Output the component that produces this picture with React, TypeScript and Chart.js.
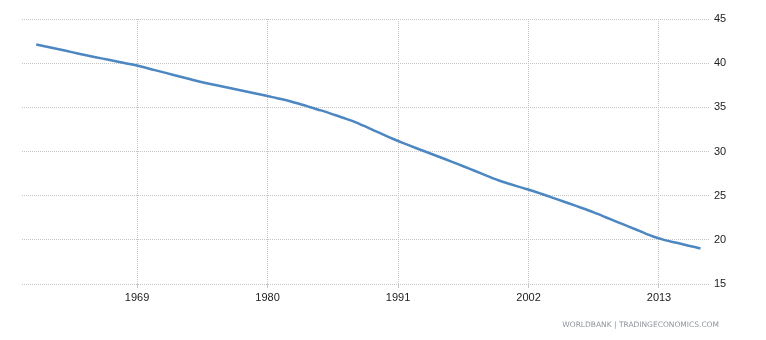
import React, { useEffect, useRef } from "react";
import { Chart, registerables } from "chart.js";

Chart.register(...registerables);

const years: number[] = [
  1960, 1961, 1962, 1963, 1964, 1965, 1966, 1967, 1968, 1969,
  1970, 1971, 1972, 1973, 1974, 1975, 1976, 1977, 1978, 1979,
  1980, 1981, 1982, 1983, 1984, 1985, 1986, 1987, 1988, 1989,
  1990, 1991, 1992, 1993, 1994, 1995, 1996, 1997, 1998, 1999,
  2000, 2001, 2002, 2003, 2004, 2005, 2006, 2007, 2008, 2009,
  2010, 2011, 2012, 2013, 2014, 2015, 2016,
];

const values: number[] = [
  42.12, 41.83, 41.54, 41.25, 40.96, 40.68, 40.41, 40.14, 39.87, 39.56,
  39.21, 38.87, 38.52, 38.18, 37.84, 37.56, 37.28, 36.99, 36.71, 36.43,
  36.13, 35.83, 35.46, 35.06, 34.65, 34.21, 33.76, 33.27, 32.67, 32.07,
  31.47, 30.92, 30.4, 29.89, 29.38, 28.86, 28.33, 27.79, 27.25, 26.72,
  26.29, 25.88, 25.47, 25.02, 24.55, 24.08, 23.6, 23.1, 22.56, 22.01,
  21.47, 20.92, 20.38, 19.97, 19.66, 19.34, 19.02,
];

const xTickYears: number[] = [1969, 1980, 1991, 2002, 2013];
const yTicks: number[] = [15, 20, 25, 30, 35, 40, 45];
const sourceText = "WORLDBANK | TRADINGECONOMICS.COM";

export default function App() {
  const canvasRef = useRef<HTMLCanvasElement | null>(null);

  useEffect(() => {
    const canvas = canvasRef.current;
    if (!canvas) return;
    const chart = new Chart(canvas, {
      type: "line",
      data: {
        datasets: [
          {
            data: years.map((yr, i) => ({ x: yr + 0.5, y: values[i] })),
            borderColor: "#4c87c2",
            borderWidth: 2.5,
            pointRadius: 0,
            tension: 0.3,
            fill: false,
          },
        ],
      },
      options: {
        responsive: false,
        animation: false,
        events: [],
        layout: { padding: { left: 22, top: 19, right: 0, bottom: 0 } },
        plugins: {
          legend: { display: false },
          tooltip: { enabled: false },
        },
        scales: {
          x: {
            type: "linear",
            min: 1959.3,
            max: 2017.3,
            afterBuildTicks: (axis: any) => {
              axis.ticks = xTickYears.map((v) => ({ value: v }));
            },
            afterFit: (axis: any) => {
              axis.height = 56;
            },
            ticks: {
              autoSkip: false,
              maxRotation: 0,
              padding: 3,
              color: "#222",
              font: { family: "Liberation Sans", size: 11 },
              callback: (v: any) => String(v),
            },
            grid: {
              color: "#c4c4c4",
              lineWidth: 1,
              tickLength: 4,
              drawTicks: true,
            },
            border: { display: false, dash: [1, 1] },
          },
          y: {
            type: "linear",
            position: "right",
            min: 15,
            max: 45,
            afterBuildTicks: (axis: any) => {
              axis.ticks = yTicks.map((v) => ({ value: v }));
            },
            afterFit: (axis: any) => {
              axis.width = 56;
            },
            ticks: {
              padding: 4,
              color: "#222",
              font: { family: "Liberation Sans", size: 11 },
            },
            grid: {
              color: "#c4c4c4",
              lineWidth: 1,
              drawTicks: false,
            },
            border: { display: false, dash: [1, 1] },
          },
        },
      },
    });
    return () => chart.destroy();
  }, []);

  return (
    <div
      style={{
        position: "absolute",
        left: 0,
        top: 0,
        width: 766,
        height: 340,
        background: "#fff",
      }}
    >
      <canvas ref={canvasRef} width={766} height={340} />
      <div
        style={{
          position: "absolute",
          right: 47,
          top: 319,
          fontFamily: "DejaVu Sans",
          fontSize: 7.5,
          color: "#8f959c",
          whiteSpace: "nowrap",
          lineHeight: "11px",
        }}
      >
        {sourceText}
      </div>
    </div>
  );
}
